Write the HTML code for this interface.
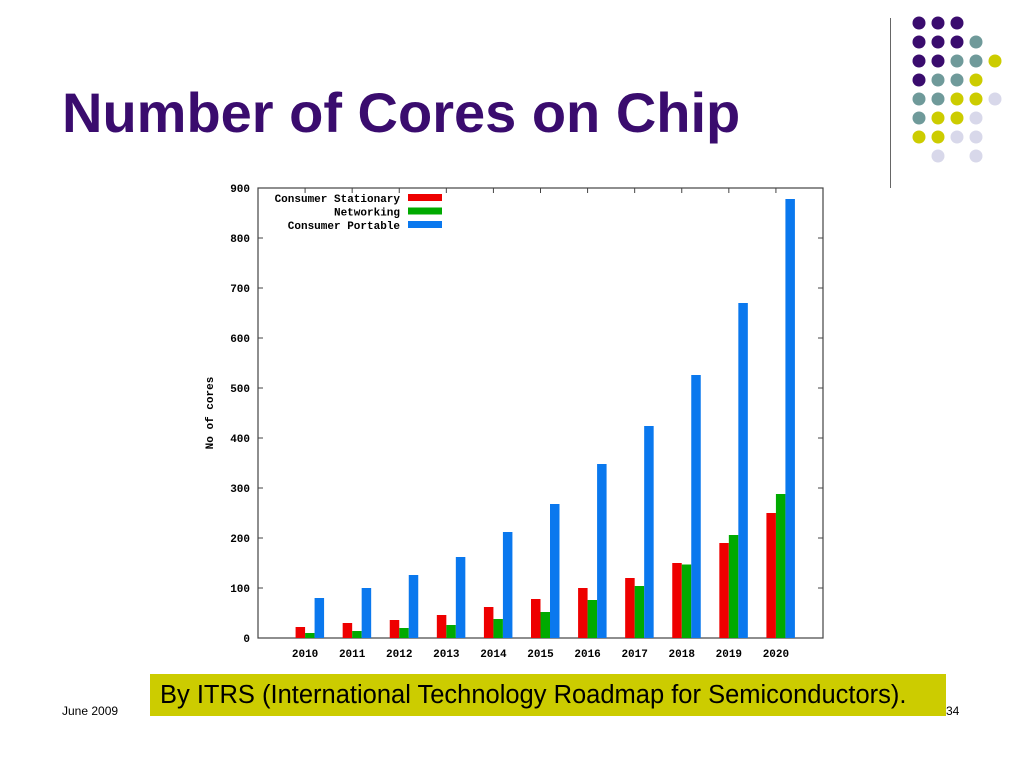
<!DOCTYPE html>
<html><head><meta charset="utf-8"><style>
body{margin:0;width:1024px;height:768px;background:#fff;position:relative;overflow:hidden;font-family:"Liberation Sans",sans-serif}
#title{position:absolute;left:62px;top:80px;font-size:56px;font-weight:bold;color:#3a0c6e;margin:0}
#vline{position:absolute;left:890px;top:18px;width:1px;height:170px;background:#666}
#caption{position:absolute;left:150px;top:674px;width:796px;height:42px;background:#cccc00;font-size:25.5px;line-height:42px;text-indent:10px;color:#000;white-space:nowrap}
.foot{position:absolute;top:704px;font-size:12px;color:#000}
</style></head><body>
<h1 id="title">Number of Cores on Chip</h1>
<div id="vline"></div>
<svg id="dots" width="1024" height="200" style="position:absolute;left:0;top:0"></svg>
<svg id="chart" width="1024" height="680" style="position:absolute;left:0;top:0"></svg>
<div id="caption">By ITRS (International Technology Roadmap for Semiconductors).</div>
<div class="foot" style="left:62px">June 2009</div>
<div class="foot" style="left:946px">34</div>
<script>
const categories=["2010","2011","2012","2013","2014","2015","2016","2017","2018","2019","2020"];
const stationary=[22,30,36,46,62,78,100,120,150,190,250];
const networking=[10,14,20,26,38,52,76,104,147,206,288];
const portable=[80,100,126,162,212,268,348,424,526,670,878];
const yTicks=[0,100,200,300,400,500,600,700,800,900];
const seriesNames=["Consumer Stationary","Networking","Consumer Portable"];
const colors=["#ee0000","#00aa00","#0a78ee"];
const NS="http://www.w3.org/2000/svg";
const svg=document.getElementById('chart');
const L=258,R=823,T=188,B=638,yMax=900;
const y=v=>B-(v/yMax)*(B-T);
const step=(R-L)/12;
const xc=i=>L+step*(i+1);
function mk(tag,a){const e=document.createElementNS(NS,tag);for(const k in a)e.setAttribute(k,a[k]);svg.appendChild(e);return e;}
const mono='"Liberation Mono",monospace';
let fr=mk('rect',{x:L,y:T,width:R-L,height:B-T,fill:'#fff',stroke:'#444','stroke-width':1.2});


yTicks.forEach(v=>{
  let t=mk('text',{x:250,y:y(v)+4,'text-anchor':'end','font-family':mono,'font-size':11,'font-weight':'bold'});
  t.textContent=v;
  
  
  mk('line',{x1:L,x2:L+5,y1:y(v),y2:y(v),stroke:'#444'});
  mk('line',{x1:R,x2:R-5,y1:y(v),y2:y(v),stroke:'#444'});
});
const series=[stationary,networking,portable];
const bw=9.5;
categories.forEach((c,i)=>{
  let t=mk('text',{x:xc(i),y:657,'text-anchor':'middle','font-family':mono,'font-size':11,'font-weight':'bold'});
  t.textContent=c;
  
  
  mk('line',{x1:xc(i),x2:xc(i),y1:T,y2:T+5,stroke:'#444'});
  series.forEach((s,k)=>{
    let r=mk('rect',{x:xc(i)-1.0*bw+k*bw,y:y(s[i]),width:bw,height:B-y(s[i]),fill:colors[k]});
    
    
  });
});
let yt=mk('text',{x:0,y:0,transform:'translate(213,413) rotate(-90)','text-anchor':'middle','font-family':mono,'font-size':11,'font-weight':'bold'});
yt.textContent='No of cores';


seriesNames.forEach((n,k)=>{
  let t=mk('text',{x:400,y:202+k*13.5,'text-anchor':'end','font-family':mono,'font-size':11,'font-weight':'bold'});
  t.textContent=n;
  
  
  mk('rect',{x:408,y:194+k*13.5,width:34,height:7,fill:colors[k]});
});
const dsvg=document.getElementById('dots');
const P='#3a0c6e',Tl='#6f9a9a',Y='#cccc00',Lv='#d8d8ea',N=null;
const grid=[[P,P,P,N,N],[P,P,P,Tl,N],[P,P,Tl,Tl,Y],[P,Tl,Tl,Y,N],[Tl,Tl,Y,Y,Lv],[Tl,Y,Y,Lv,N],[Y,Y,Lv,Lv,N],[N,Lv,N,Lv,N]];
grid.forEach((row,r)=>row.forEach((col,c)=>{if(!col)return;
  const e=document.createElementNS(NS,'circle');
  e.setAttribute('cx',919+c*19);e.setAttribute('cy',23+r*19);e.setAttribute('r',6.5);e.setAttribute('fill',col);
  dsvg.appendChild(e);}));
</script>
</body></html>
